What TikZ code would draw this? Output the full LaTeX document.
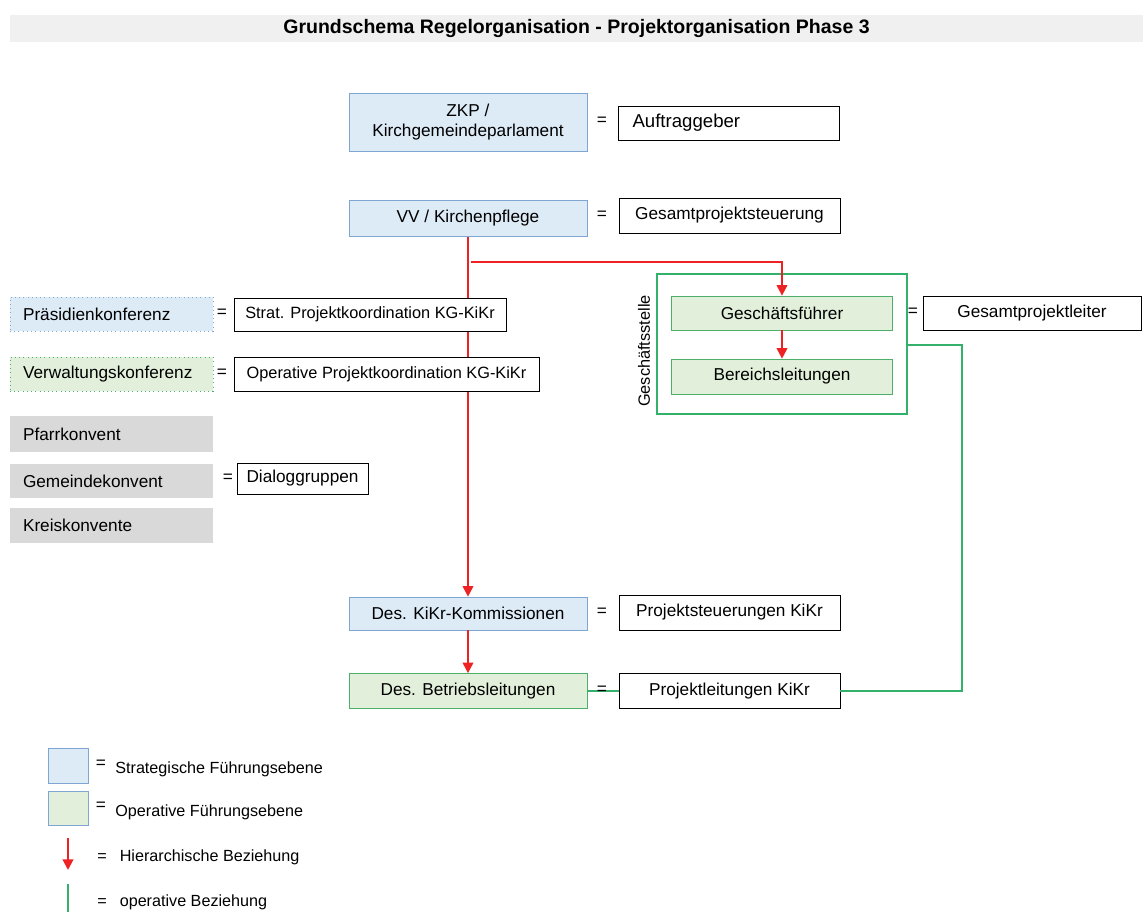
\documentclass[tikz,border=0pt]{standalone}
\usepackage{fontspec}
\setmainfont{Liberation Sans}
\usepackage{tikz}
\usetikzlibrary{arrows.meta,backgrounds}

\definecolor{stratfill}{HTML}{DDEBF7}
\definecolor{stratline}{HTML}{7FA6D3}
\definecolor{operfill}{HTML}{E2EFDA}
\definecolor{operline}{HTML}{4CAF6A}
\definecolor{convfill}{HTML}{D9D9D9}
\definecolor{titlefill}{HTML}{F0F0F0}
\definecolor{hierred}{HTML}{EE2222}
\definecolor{opergreen}{HTML}{33B06A}

\begin{document}
\begin{tikzpicture}[x=0.02cm, y=-0.02cm, font=\fontsize{9.8}{11.5}\selectfont,
		box_style/.style={rectangle, inner sep=0pt, minimum height=0.7cm, align=center},
		strat_style/.style={box_style, draw=stratline, fill=stratfill, minimum width=4.76cm},
		oper_style/.style={box_style, draw=operline, fill=operfill},
		role_style/.style={box_style, draw=black, fill=white, minimum width=4.42cm},
		conf_style/.style={box_style, minimum width=4.06cm, text width=3.54cm, inner xsep=0.26cm, align=left},
		eq_style/.style={inner sep=0pt},
		legend_style/.style={anchor=west, inner sep=0pt, font=\fontsize{9.2}{11}\selectfont},
		hier_edge/.style={draw=hierred, line width=1.1pt, -{Triangle[width=6pt,length=6pt]}},
		oper_edge/.style={draw=opergreen, line width=1.1pt}]

		\useasboundingbox (0,0) rectangle (1143,912);

		% title
		\node[fill=titlefill, minimum width=22.66cm, minimum height=0.54cm, inner sep=0pt,
			font=\fontsize{11.1}{12}\selectfont\bfseries] (title) at (576.5,28.5)
			{Grundschema Regelorganisation - Projektorganisation Phase 3};

		% main column
		\node[strat_style, minimum height=1.16cm] (zkp) at (468,122) {ZKP /\\Kirchgemeindeparlament};
		\node[eq_style] (eq_zkp) at (602,121) {=};
		\node[role_style, text width=3.86cm, inner xsep=0.28cm, align=left, minimum height=0.68cm,
			font=\fontsize{10.6}{12}\selectfont] (auftr) at (729,123) {Auftraggeber};

		\node[strat_style, minimum height=0.72cm] (vv) at (468,218) {VV / Kirchenpflege};
		\node[eq_style] (eq_vv) at (602,215) {=};
		\node[role_style] (gps) at (729.5,215.5) {Gesamtprojektsteuerung};

		\node[strat_style, minimum height=0.66cm] (kk) at (468,613.5) {Des. KiKr-Kommissionen};
		\node[eq_style] (eq_kk) at (602,612) {=};
		\node[role_style] (pst) at (729.5,612.5) {Projektsteuerungen KiKr};

		\node[oper_style, minimum width=4.76cm] (bl) at (468,691) {Des. Betriebsleitungen};
		\node[role_style] (pl) at (729.5,691) {Projektleitungen KiKr};

		% left side
		\node[conf_style, draw=stratline, dotted, fill=stratfill, minimum height=0.68cm] (praes) at (111.5,314) {Präsidienkonferenz};
		\node[eq_style] (eq_praes) at (222,313) {=};
		\node[role_style, minimum width=5.44cm, minimum height=0.66cm, font=\fontsize{9.3}{11}\selectfont] (strat) at (370,314.5) {Strat. Projektkoordination KG-KiKr};

		\node[conf_style, draw=operline, dotted, fill=operfill, minimum height=0.68cm] (verw) at (111.5,374) {Verwaltungskonferenz};
		\node[eq_style] (eq_verw) at (222,373) {=};
		\node[role_style, minimum width=6.1cm, minimum height=0.68cm, font=\fontsize{9.3}{11}\selectfont] (opk) at (386.5,374) {Operative Projektkoordination KG-KiKr};

		\node[conf_style, fill=convfill, minimum height=0.72cm] (pfarr) at (111.5,434) {Pfarrkonvent};
		\node[conf_style, fill=convfill, minimum height=0.68cm] (gemk) at (111.5,481) {Gemeindekonvent};
		\node[eq_style] (eq_gemk) at (228,478) {=};
		\node[role_style, minimum width=2.62cm, minimum height=0.62cm] (dialog) at (302.5,478.5) {Dialoggruppen};
		\node[conf_style, fill=convfill, minimum height=0.7cm] (kreis) at (111.5,525.5) {Kreiskonvente};

		% Geschaeftsstelle
		\node[draw=opergreen, line width=0.8pt, fill=white, minimum width=5.0cm, minimum height=2.8cm, inner sep=0pt] (gs) at (782,344) {};
		\node[rotate=90, inner sep=0pt, font=\fontsize{9.3}{10}\selectfont] (gs_label) at (644,351) {Geschäftsstelle};
		\node[oper_style, minimum width=4.42cm, minimum height=0.68cm] (gf) at (782,313) {Geschäftsführer};
		\node[oper_style, minimum width=4.42cm] (brl) at (782,376.5) {Bereichsleitungen};
		\node[eq_style] (eq_gf) at (913,312) {=};
		\node[role_style, minimum width=4.36cm, minimum height=0.68cm] (gpl) at (1032,313) {Gesamtprojektleiter};

		% relations
		\coordinate (split) at (471,262);
		\coordinate (gturn) at (962,345);
		\begin{scope}[on background layer]
			\draw[hier_edge] (vv.south) -- (kk.north);
		\end{scope}
		\draw[hier_edge] (split) -| (gf.north);
		\draw[hier_edge] (gf.south) -- (brl.north);
		\draw[hier_edge] (kk.south) -- (bl.north);
		\draw[oper_edge] (gs.east |- gturn) -- (gturn) |- (pl.east);
		\draw[oper_edge] (bl.east) -- (pl.west);
		\node[eq_style] (eq_bl) at (602,690) {=};

		% legend
		\node[draw=stratline, fill=stratfill, minimum width=0.8cm, minimum height=0.7cm, inner sep=0pt] (leg_strat) at (68,765.5) {};
		\node[eq_style] (leg_eq1) at (101,764) {=};
		\node[legend_style] (leg_t1) at (115,769) {Strategische Führungsebene};
		\node[draw=stratline, fill=operfill, minimum width=0.8cm, minimum height=0.68cm, inner sep=0pt] (leg_oper) at (68,808) {};
		\node[eq_style] (leg_eq2) at (101,806) {=};
		\node[legend_style] (leg_t2) at (115,812) {Operative Führungsebene};
		\coordinate (leg_r1) at (68,838);
		\coordinate (leg_r2) at (68,870);
		\draw[hier_edge] (leg_r1) -- (leg_r2);
		\node[legend_style] (leg_t3) at (97,857) {=\hspace{0.26cm}Hierarchische Beziehung};
		\coordinate (leg_g1) at (68,884);
		\coordinate (leg_g2) at (68,912);
		\draw[oper_edge] (leg_g1) -- (leg_g2);
		\node[legend_style] (leg_t4) at (97,902) {=\hspace{0.26cm}operative Beziehung};

\end{tikzpicture}
\end{document}
